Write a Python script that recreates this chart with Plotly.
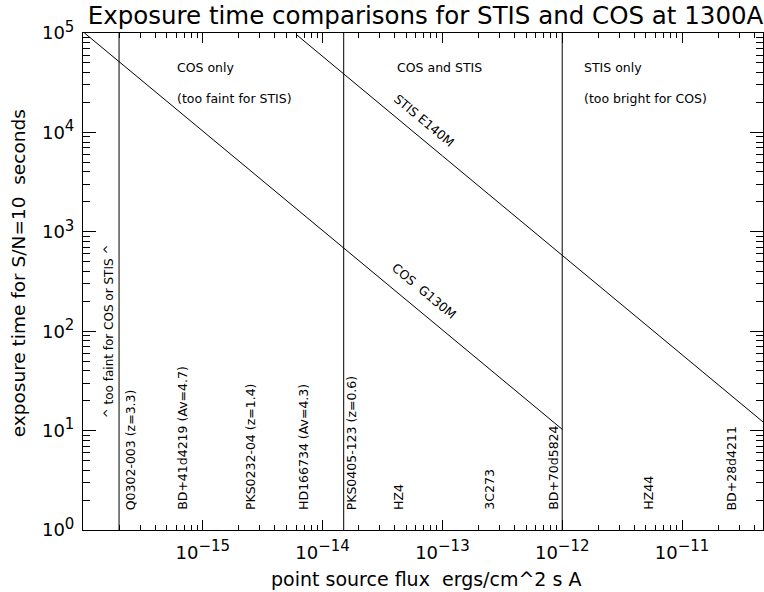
import plotly.graph_objects as go
import numpy as np

# Exposure time (s) for S/N=10 versus point-source flux, read at decade points
cos_flux = [1e-16, 1e-15, 1e-14, 1e-13, 1e-12]
cos_time = [1.03e5, 1.03e4, 1.03e3, 103.0, 10.3]

stis_flux = [6e-15, 1e-14, 1e-13, 1e-12, 1e-11, 5e-11]
stis_time = [9.7e4, 5.8e4, 5.8e3, 580.0, 58.0, 11.6]

# Flux limits separating the regimes
boundary_flux = [2e-16, 1.5e-14, 1e-12]

# Calibration targets and their fluxes
target_names = ["Q0302-003 (z=3.3)", "BD+41d4219 (Av=4.7)", "PKS0232-04 (z=1.4)",
                "HD166734 (Av=4.3)", "PKS0405-123 (z=0.6)", "HZ4", "3C273",
                "BD+70d5824", "HZ44", "BD+28d4211"]
target_flux = [3.0e-16, 8.0e-16, 3.0e-15, 8.2e-15, 2.1e-14, 5.1e-14, 3.0e-13,
               1.0e-12, 6.2e-12, 3.1e-11]

x_tick_exp = [-15, -14, -13, -12, -11]
y_tick_exp = [0, 1, 2, 3, 4, 5]

FONT = "DejaVu Sans"


def power_label(e):
    s = str(e).replace("-", "\u2212")
    return f'10<sup><span style="font-size:15px">{s}</span></sup>'


fig = go.Figure()

fig.add_trace(go.Scatter(x=cos_flux, y=cos_time, mode="lines",
                         line=dict(color="black", width=1), showlegend=False))
fig.add_trace(go.Scatter(x=stis_flux, y=stis_time, mode="lines",
                         line=dict(color="black", width=1), showlegend=False))
for f in boundary_flux:
    fig.add_trace(go.Scatter(x=[f, f], y=[1, 1e5], mode="lines",
                             line=dict(color="black", width=1), showlegend=False))

label_font = dict(family=FONT, size=12.5, color="black")

ann = []
for name, f in zip(target_names, target_flux):
    ann.append(dict(x=np.log10(f), y=0.18, xref="x", yref="y", text=name,
                    textangle=-90, xanchor="right", yanchor="bottom",
                    showarrow=False, font=label_font))

ann.append(dict(x=np.log10(boundary_flux[0]) - 0.006, y=1.107, xref="x", yref="y",
                text="^ too faint for COS or STIS ^", textangle=-90,
                xanchor="right", yanchor="bottom", showarrow=False,
                font=dict(family=FONT, size=12, color="black")))

for txt, x, y in [("COS only", -15.23, 4.651), ("(too faint for STIS)", -15.23, 4.343),
                  ("COS and STIS", -13.396, 4.651),
                  ("STIS only", -11.832, 4.651), ("(too bright for COS)", -11.832, 4.343)]:
    ann.append(dict(x=x, y=y, xref="x", yref="y", text=txt, xanchor="left",
                    yanchor="middle", showarrow=False, font=label_font))

ann.append(dict(x=-13.154, y=4.115, xref="x", yref="y", text="STIS E140M",
                textangle=39.7, showarrow=False, font=label_font))
ann.append(dict(x=-13.146, y=2.404, xref="x", yref="y", text="COS  G130M",
                textangle=39.7, showarrow=False, font=label_font))

ann.append(dict(x=-0.0945, y=0.516, xref="paper", yref="paper",
                xanchor="center", yanchor="middle",
                text="exposure time for S/N=10  seconds", textangle=-90,
                showarrow=False, font=dict(family=FONT, size=18.5, color="black")))
ann.append(dict(x=0.504, y=-0.0986, xref="paper", yref="paper",
                xanchor="center", yanchor="middle",
                text="point source flux  ergs/cm^2 s A",
                showarrow=False, font=dict(family=FONT, size=19, color="black")))

axis_common = dict(showline=True, linecolor="black", linewidth=1, mirror="allticks",
                   ticks="inside", tickcolor="black", tickwidth=1, showgrid=False,
                   zeroline=False, tickfont=dict(family=FONT, size=18, color="black"))

fig.update_layout(
    width=764, height=592,
    margin=dict(l=83, r=1, t=33, b=62),
    paper_bgcolor="white", plot_bgcolor="white",
    title=dict(text="Exposure time comparisons for STIS and COS at 1300A",
               x=425.5 / 764, xref="container", xanchor="center",
               y=1 - 15 / 592, yref="container", yanchor="middle",
               font=dict(family=FONT, size=24.5, color="black")),
    xaxis=dict(type="log", range=[-16, -10.324],
               tickvals=[10.0 ** e for e in x_tick_exp],
               ticktext=[power_label(e) for e in x_tick_exp],
               ticklen=10, ticklabelstandoff=6,
               minor=dict(ticks="inside", ticklen=5, dtick="D1", tickcolor="black",
                          showgrid=False),
               **axis_common),
    yaxis=dict(type="log", range=[0, 5],
               tickvals=[10.0 ** e for e in y_tick_exp],
               ticktext=[power_label(e) for e in y_tick_exp],
               ticklen=13, ticklabelstandoff=4,
               minor=dict(ticks="inside", ticklen=7, dtick="D1", tickcolor="black",
                          showgrid=False),
               **axis_common),
    annotations=ann,
    showlegend=False,
)

fig.write_html("out.html")
